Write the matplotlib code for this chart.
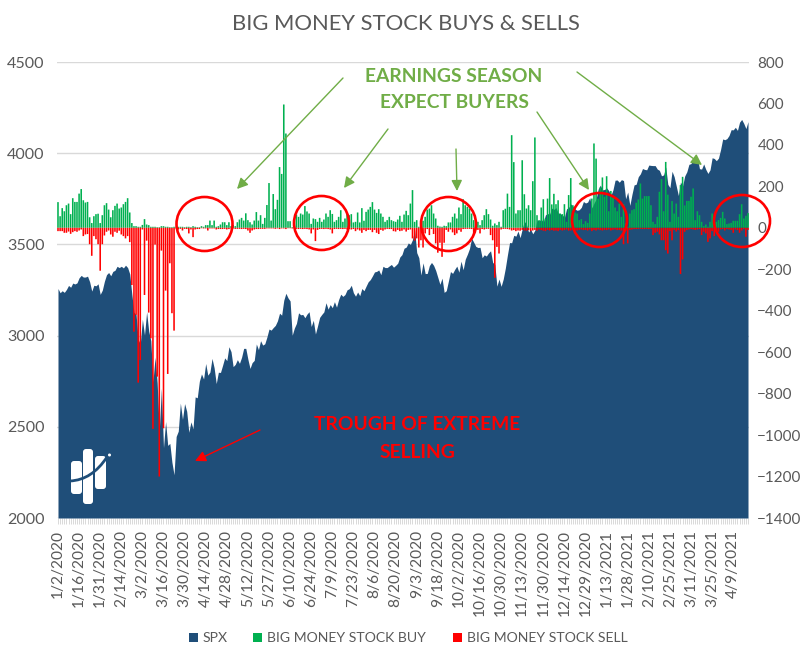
import numpy as np
import matplotlib
matplotlib.use("Agg")
import matplotlib.pyplot as plt
from matplotlib.patches import Ellipse, FancyBboxPatch, PathPatch, Rectangle
from matplotlib.path import Path

plt.rcParams['font.family'] = ['Lato', 'DejaVu Sans']

spx = [
    3258,3235,3246,3237,3253,3275,3265,3288,3283,3289,3317,3330,3321,3321,3326,3295,3244,3276,3273,3284,3226,
    3249,3298,3334,3346,3328,3352,3358,3380,3373,3380,3371,3386,3373,3338,3226,3128,3116,2979,2954,
    3090,3003,3130,3024,2972,2747,2882,2741,2481,2711,2386,2529,2398,2409,2305,2237,2447,2476,2630,2541,2627,2585,
    2470,2527,2489,2664,2659,2750,2790,2762,2847,2783,2800,2875,2823,2737,2799,2798,2837,2878,2863,2939,2912,
    2830,2842,2868,2848,2881,2930,2930,2870,2820,2852,2864,2954,2923,2972,2948,2955,2992,3036,3030,3044,
    3056,3081,3123,3112,3194,3232,3207,3190,3002,3041,3067,3125,3114,3116,3098,3118,3131,3050,3084,3009,3053,3100,
    3116,3130,3180,3145,3170,3153,3186,3156,3198,3227,3215,3225,3251,3257,3276,3235,3216,3239,3219,3258,3246,3271,
    3295,3307,3327,3349,3352,3360,3334,3380,3373,3373,3382,3390,3375,3385,3397,3431,3444,3479,3485,3508,3500,
    3526,3581,3455,3427,3332,3399,3340,3341,3384,3401,3385,3357,3319,3281,3315,3237,3246,3298,3351,3341,3363,
    3381,3348,3408,3361,3419,3446,3477,3534,3512,3489,3483,3484,3427,3443,3436,3453,3465,3401,3391,3271,3310,3270,
    3310,3370,3443,3510,3509,3550,3545,3573,3537,3585,3627,3610,3568,3582,3558,3578,3635,3629,3638,3622,
    3662,3669,3666,3699,3692,3702,3673,3668,3663,3647,3695,3702,3722,3709,3694,3687,3690,3703,3735,3727,3732,3756,
    3700,3726,3748,3803,3825,3799,3801,3810,3795,3768,3799,3852,3853,3841,3855,3850,3750,3787,3714,
    3774,3826,3830,3871,3887,3916,3911,3909,3935,3933,3932,3932,3913,3906,3876,3881,3925,3829,3811,
    3901,3871,3820,3768,3842,3821,3875,3898,3939,3943,3969,3963,3974,3915,3913,3941,3911,3889,3909,3975,3971,3959,3973,
    4020,4078,4074,4080,4097,4129,4128,4142,4125,4170,4185,4163,4135,4173,
]

big_buy = [
    124,56,95,80,109,117,66,143,125,125,
    165,187,133,122,125,51,23,56,66,68,
    23,61,109,119,88,51,85,106,117,93,
    98,114,125,143,74,23,8,8,5,5,
    14,42,16,13,5,5,5,3,3,8,
    8,5,5,3,3,5,3,5,5,5,
    3,5,5,3,8,5,3,3,8,5,
    13,13,35,13,35,5,8,16,27,27,
    13,27,8,14,8,27,40,48,35,70,
    37,27,16,35,76,35,61,19,48,110,
    216,35,163,90,135,293,260,595,455,32,
    32,3,14,64,53,69,64,105,79,69,
    19,45,42,29,48,29,40,69,53,85,
    67,29,37,53,85,29,45,69,61,66,
    26,29,74,26,95,34,77,88,101,124,
    88,72,90,69,53,29,37,53,37,32,
    29,40,58,29,64,82,61,117,182,29,
    37,5,13,34,53,88,93,109,69,45,
    10,6,5,10,8,26,26,53,69,45,
    98,66,138,109,101,93,69,37,5,29,
    13,37,61,90,66,40,10,21,13,29,
    5,85,92,165,101,447,317,69,85,85,
    326,162,93,109,85,225,436,61,37,98,
    138,45,141,240,113,164,114,133,69,66,
    114,29,158,240,109,74,69,37,42,18,
    32,24,69,141,407,334,141,195,243,150,
    249,80,178,145,98,80,117,53,114,21,
    5,69,85,90,121,137,214,141,153,153,
    153,109,29,18,53,174,235,80,318,160,
    29,129,69,117,53,206,246,108,130,130,
    150,190,37,80,61,29,8,16,5,29,
    69,5,29,37,48,77,45,18,21,24,
    34,34,34,66,114,45,58,71,
]

big_sell = [
    -16,-16,-16,-24,-24,-18,-29,-21,-16,-19,
    -13,-8,-40,-32,-30,-79,-135,-40,-55,-79,
    -207,-79,-37,-19,-13,-32,-43,-19,-24,-14,
    -32,-40,-51,-40,-69,-276,-501,-420,-747,-638,
    -8,-324,-62,-409,-533,-970,-81,-718,-1200,-110,
    -967,-303,-705,-171,-412,-496,-3,-8,-5,-13,
    -5,-6,-27,-8,-45,-8,-6,-6,-2,-3,
    -3,-13,-3,-3,-3,-8,-6,-6,-6,-5,
    -8,-6,-3,-3,-5,-5,-5,-6,-5,-6,
    -13,-24,-13,-8,-6,-6,-5,-5,-5,-3,
    -3,-3,-3,-5,-3,-6,-3,-3,-6,-2,
    -2,-3,-3,-5,-6,-5,-6,-5,-6,-8,
    -27,-8,-64,-10,-6,-5,-6,-5,-6,-8,
    -27,-6,-5,-6,-5,-6,-5,-8,-6,-8,
    -6,-16,-8,-13,-24,-10,-16,-10,-10,-21,
    -10,-24,-30,-10,-14,-8,-5,-6,-6,-16,
    -18,-10,-16,-14,-8,-18,-10,-8,-51,-62,
    -51,-95,-60,-95,-27,-6,-35,-6,-30,-75,
    -120,-72,-140,-72,-10,-19,-8,-22,-35,-27,
    -11,-19,-6,-5,-5,-5,-6,-35,-11,-10,
    -27,-6,-8,-5,-5,-35,-60,-241,-92,-124,
    -8,-5,-5,-6,-8,-13,-11,-16,-13,-14,
    -10,-13,-14,-11,-16,-13,-10,-14,-8,-11,
    -14,-16,-10,-13,-11,-14,-13,-16,-10,-13,
    -11,-8,-14,-13,-10,-11,-13,-10,-8,-11,
    -10,-13,-8,-16,-10,-13,-8,-11,-13,-10,
    -11,-8,-13,-10,-8,-11,-10,-13,-79,-16,
    -75,-10,-8,-6,-6,-5,-5,-6,-6,-5,
    -6,-5,-35,-24,-19,-32,-60,-60,-108,-124,
    -16,-60,-10,-18,-11,-223,-153,-19,-11,-8,
    -6,-8,-10,-8,-6,-35,-19,-27,-68,-51,
    -16,-40,-11,-19,-8,-6,-13,-6,-8,-10,
    -24,-8,-11,-24,-13,-6,-43,-10,
]

date_labels = [
    "1/2/2020", "1/16/2020", "1/31/2020", "2/14/2020", "3/2/2020", "3/16/2020", "3/30/2020",
    "4/14/2020", "4/28/2020", "5/12/2020", "5/27/2020", "6/10/2020", "6/24/2020", "7/9/2020",
    "7/23/2020", "8/6/2020", "8/20/2020", "9/3/2020", "9/18/2020", "10/2/2020", "10/16/2020",
    "10/30/2020", "11/13/2020", "11/30/2020", "12/14/2020", "12/29/2020", "1/13/2021", "1/28/2021",
    "2/10/2021", "2/25/2021", "3/11/2021", "3/25/2021", "4/9/2021",
]

GREY = "#595959"
GRID = "#D9D9D9"
NAVY = "#1F4E79"
GREEN = "#00B050"
RED = "#FF0000"
NOTE_GREEN = "#70AD47"

days = np.arange(len(spx))

fig = plt.figure(figsize=(8.07, 6.5), dpi=100)
ax = fig.add_axes([57 / 807, 1 - 518 / 650, 692 / 807, 456 / 650])

ax.fill_between(days, 2000, spx, color=NAVY, lw=0, label="SPX", zorder=2)
ax.set_xlim(-0.47, len(spx) - 0.53)
ax.set_ylim(2000, 4500)
ax.set_yticks(range(2000, 5000, 500))
ax.grid(True, axis="y", color=GRID, lw=1, zorder=0)
ax.set_axisbelow(True)
for s in ax.spines.values():
    s.set_visible(False)

# every day gets a tick mark, only every tenth one a date
labels = [""] * len(spx)
for n, d in enumerate(date_labels):
    labels[n * 10] = d
ax.set_xticks(days)
ax.set_xticklabels(labels, rotation=90, fontsize=11.2, color=GREY)
ax.tick_params(axis="x", length=4.5, width=0.7, color=GRID, pad=4)
ax.tick_params(axis="y", length=0, labelsize=11.6, labelcolor=GREY, pad=9)

ax2 = ax.twinx()
buy_bars = ax2.bar(days, big_buy, width=0.75, color=GREEN, lw=0, label="BIG MONEY STOCK BUY", zorder=3)
sell_bars = ax2.bar(days, big_sell, width=0.75, color=RED, lw=0, label="BIG MONEY STOCK SELL", zorder=3)
for b in list(buy_bars) + list(sell_bars):
    b.set_snap(False)
ax2.set_ylim(-1400, 800)
ax2.set_yticks(range(-1400, 1000, 200))
ax2.tick_params(axis="y", length=0, labelsize=11, labelcolor=GREY, pad=6)
for s in ax2.spines.values():
    s.set_visible(False)

# overlay in pixel coordinates for the hand drawn notes
over = fig.add_axes([0, 0, 1, 1], facecolor="none")
over.set_xlim(0, 807)
over.set_ylim(650, 0)
over.axis("off")

over.text(406, 24, "BIG MONEY STOCK BUYS & SELLS", ha="center", va="center", fontsize=15.8, color=GREY)
over.text(454, 76, "EARNINGS SEASON", ha="center", va="center", fontsize=13.9, fontweight="bold", color=NOTE_GREEN)
over.text(454, 103, "EXPECT BUYERS", ha="center", va="center", fontsize=13.9, fontweight="bold", color=NOTE_GREEN)
over.text(417, 424, "TROUGH OF EXTREME", ha="center", va="center", fontsize=13.9, fontweight="bold", color=RED)
over.text(417, 452, "SELLING", ha="center", va="center", fontsize=13.9, fontweight="bold", color=RED)

green_arrows = [((343, 78), (237, 189)), ((388, 129), (344, 188)), ((456, 149), (457, 191)),
                ((537, 112), (589, 190)), ((577, 72), (702, 165))]
for start, end in green_arrows:
    over.annotate("", xy=end, xytext=start,
                  arrowprops=dict(arrowstyle="-|>", color=NOTE_GREEN, lw=1, mutation_scale=16,
                                  shrinkA=0, shrinkB=0))
over.annotate("", xy=(195, 461), xytext=(260, 430),
              arrowprops=dict(arrowstyle="-|>", color=RED, lw=1, mutation_scale=16, shrinkA=0, shrinkB=0))

circles = [(204.5, 224, 56, 54), (321.5, 223, 55, 54), (448.5, 224, 55, 54), (599.5, 220, 55, 54), (742, 221, 56, 52)]
for cx, cy, w, h in circles:
    over.add_patch(Ellipse((cx, cy), w, h, fill=False, edgecolor=RED, lw=1.9))

# logo
for x, y, w, h in [(71, 461, 11, 33), (83, 449, 10, 55), (95, 456, 11, 33)]:
    over.add_patch(FancyBboxPatch((x + 3, y + 3), w - 6, h - 6, boxstyle="round,pad=3", fc="white", ec="none"))
over.add_patch(PathPatch(Path([(70, 481), (92, 480), (107, 457)], [Path.MOVETO, Path.CURVE3, Path.CURVE3]),
                         fill=False, ec=NAVY, lw=2))
over.add_patch(Ellipse((109.5, 455), 3, 3, fc="white", ec="none"))

# legend
legend_items = [(189, "SPX", NAVY), (253, "BIG MONEY STOCK BUY", GREEN), (453, "BIG MONEY STOCK SELL", RED)]
for x, name, col in legend_items:
    over.add_patch(Rectangle((x, 633), 9, 9, fc=col, ec="none"))
    over.text(x + 14, 637.5, name, ha="left", va="center", fontsize=10.1, color=GREY)

fig.savefig("out.png", dpi=100)
